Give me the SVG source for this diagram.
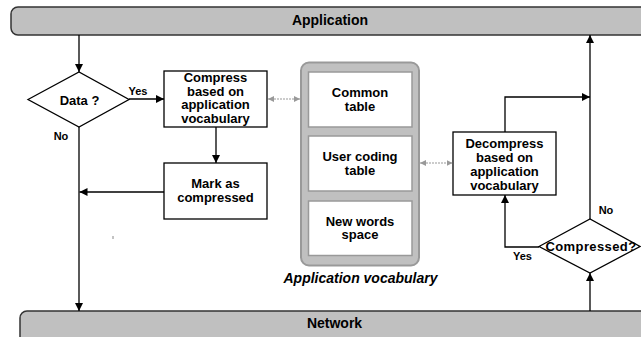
<svg xmlns="http://www.w3.org/2000/svg" width="641" height="337" viewBox="0 0 641 337">
<defs>
<marker id="ah" viewBox="0 0 10 10" refX="10" refY="5" markerWidth="8" markerHeight="8" markerUnits="userSpaceOnUse" orient="auto"><path d="M0,0 L10,5 L0,10 Z" fill="#000"/></marker>
<marker id="gh" viewBox="0 0 10 10" refX="10" refY="5" markerWidth="6" markerHeight="6" markerUnits="userSpaceOnUse" orient="auto-start-reverse"><path d="M0,0 L10,5 L0,10 Z" fill="#999"/></marker>
<style>
.t{font-family:"Liberation Sans",Arial,sans-serif;font-weight:bold;font-size:13px;fill:#000;text-anchor:middle}
.bar{fill:#c0c0c0;stroke:#333;stroke-width:1.5}
.box{fill:#fff;stroke:#000;stroke-width:1.3}
.ln{fill:none;stroke:#000;stroke-width:1.3;marker-end:url(#ah)}
.dl{fill:none;stroke:#999;stroke-width:1.2;stroke-dasharray:2 1;marker-start:url(#gh);marker-end:url(#gh)}
.in{fill:#fff;stroke:#999;stroke-width:1.5}
</style>
</defs>
<g id="application"><rect class="bar" x="11" y="7" width="650" height="28" rx="7"/><text class="t" x="330" y="25" style="font-size:14px">Application</text></g>
<g id="network"><rect class="bar" x="20" y="311" width="650" height="40" rx="7"/><text class="t" x="334.5" y="328" style="font-size:14px">Network</text></g>
<g id="data"><path class="box" d="M28,99.5 L79,72 L129,99.5 L79,127 Z"/><text class="t" x="79.5" y="104.5">Data ?</text></g>
<g id="compress"><rect class="box" x="164" y="71" width="103" height="56"/><text class="t" x="215.5" y="82">Compress</text><text class="t" x="215.5" y="95.5">based on</text><text class="t" x="215.5" y="109">application</text><text class="t" x="215.5" y="122.5">vocabulary</text></g>
<g id="mark"><rect class="box" x="164" y="163" width="103" height="56"/><text class="t" x="215.5" y="188">Mark as</text><text class="t" x="215.5" y="202">compressed</text></g>
<g id="vocabulary"><rect x="301" y="62.5" width="118" height="203" rx="8" fill="#c0c0c0" stroke="#999" stroke-width="2"/>
<rect class="in" x="308.5" y="72" width="103.5" height="55"/><text class="t" x="360" y="97">Common</text><text class="t" x="360" y="110.5">table</text>
<rect class="in" x="308.5" y="136" width="103.5" height="55"/><text class="t" x="360" y="161">User coding</text><text class="t" x="360" y="174.5">table</text>
<rect class="in" x="308.5" y="201" width="103.5" height="54.5"/><text class="t" x="360" y="225.5">New words</text><text class="t" x="360" y="239">space</text>
<text class="t" x="360.5" y="283" style="font-size:14px;font-style:italic">Application vocabulary</text></g>
<g id="decompress"><rect class="box" x="453" y="132" width="103" height="63"/><text class="t" x="504.5" y="148">Decompress</text><text class="t" x="504.5" y="162">based on</text><text class="t" x="504.5" y="176">application</text><text class="t" x="504.5" y="190">vocabulary</text></g>
<g id="compressed"><path class="box" d="M539,246.5 L590,219 L640,246.5 L590,273 Z"/><text class="t" x="591" y="250.5" style="letter-spacing:0.4px">Compressed?</text></g>
<g id="connectors">
<path class="ln" d="M79,35 V72"/>
<path class="ln" d="M129,99 H164"/>
<path class="ln" d="M216,127 V163"/>
<path class="ln" d="M164,192 H79.5"/>
<path class="ln" d="M79,127 V311"/>
<path class="dl" d="M268,99 H300"/>
<path class="dl" d="M420,163 H452.5"/>
<path class="ln" d="M590,311 V273"/>
<path class="ln" d="M590,219 V35"/>
<path class="ln" d="M505,132 V97 H590"/>
<path class="ln" d="M539,247 H505 V195"/>
<line x1="113" y1="236" x2="113" y2="239" stroke="#888" stroke-width="1"/>
<text class="t" x="138" y="94.5" style="font-size:11px">Yes</text>
<text class="t" x="61" y="139.5" style="font-size:11px">No</text>
<text class="t" x="606" y="213.5" style="font-size:11px">No</text>
<text class="t" x="522.5" y="259.5" style="font-size:11px">Yes</text>
</g>
</svg>
